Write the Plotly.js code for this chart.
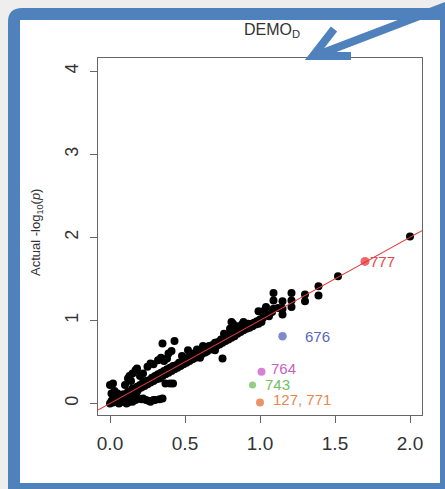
<!DOCTYPE html>
<html>
<head>
<meta charset="utf-8">
<script src="https://cdn.plot.ly/plotly-3.0.1.min.js"></script>
<style>
  html, body { margin: 0; padding: 0; background: #eeeeee; }
  #chart { width: 445px; height: 489px; }
</style>
</head>
<body>
<div id="chart"></div>
<script>
// ---------- data ----------
const blackX = [
  0.00,0.01,0.02,0.03,0.02,0.04,0.05,0.06,0.07,0.08,0.09,0.10,0.01,0.03,0.05,0.06,0.08,0.10,0.11,0.12,
  0.00,0.02,
  0.10,0.12,0.13,0.15,0.17,0.18,0.14,0.20,0.22,0.25,0.27,0.29,0.32,0.34,0.36,0.38,0.35,0.43,0.41,0.39,
  0.13,0.15,0.17,0.18,0.19,0.21,0.22,0.24,0.26,0.27,0.29,0.30,0.33,0.35,0.37,0.40,0.42,0.15,0.17,
  0.12,0.14,0.15,0.16,0.18,0.19,0.20,0.21,0.22,0.23,0.24,0.25,0.26,0.27,0.28,0.29,0.30,0.31,0.32,0.33,
  0.34,0.35,0.36,0.37,0.38,0.39,0.40,0.41,0.42,0.43,0.44,0.45,0.46,0.47,0.48,0.49,0.50,0.51,0.52,0.53,
  0.54,0.55,0.56,0.57,0.58,0.59,0.60,0.61,0.62,0.63,0.64,0.65,0.66,0.67,0.68,0.69,0.70,0.71,0.72,0.73,
  0.74,0.75,0.76,0.77,0.78,0.79,0.80,0.81,0.82,0.83,0.84,0.85,0.86,0.87,0.88,0.89,0.90,0.91,0.92,0.93,
  0.94,0.95,0.96,0.97,0.98,0.99,1.00,1.01,1.02,
  0.48,0.52,0.55,0.58,0.62,0.64,0.68,0.75,0.76,0.80,0.81,0.82,0.85,0.88,0.89,0.92,0.95,0.99,0.60,0.70,
  1.03,1.04,1.04,1.06,1.08,1.09,1.09,1.09,1.12,1.15,1.15,1.15,1.21,1.21,1.21,1.30,1.30,1.39,1.39,1.52,2.00
];
const blackY = [
  0.00,0.03,0.01,0.05,0.08,0.02,0.06,0.04,0.09,0.05,0.11,0.08,0.12,0.15,0.12,0.00,0.02,0.03,0.00,0.01,
  0.22,0.24,
  0.22,0.30,0.33,0.36,0.40,0.42,0.27,0.33,0.36,0.44,0.48,0.47,0.52,0.55,0.51,0.54,0.72,0.75,0.63,0.60,
  0.10,0.12,0.10,0.14,0.06,0.05,0.06,0.04,0.03,0.02,0.04,0.04,0.05,0.06,0.24,0.24,0.24,0.02,0.04,
  0.14,0.15,0.18,0.14,0.20,0.17,0.22,0.19,0.25,0.21,0.27,0.23,0.28,0.25,0.31,0.27,0.33,0.29,0.35,0.30,
  0.37,0.33,0.39,0.35,0.41,0.37,0.43,0.39,0.45,0.41,0.46,0.43,0.49,0.45,0.50,0.47,0.53,0.49,0.55,0.51,
  0.57,0.53,0.58,0.55,0.61,0.57,0.62,0.59,0.65,0.61,0.66,0.63,0.69,0.65,0.70,0.67,0.73,0.69,0.74,0.71,
  0.77,0.73,0.78,0.75,0.81,0.77,0.83,0.79,0.85,0.81,0.87,0.84,0.89,0.86,0.90,0.88,0.92,0.90,0.94,0.91,
  0.95,0.93,0.97,0.95,0.99,0.96,1.01,0.98,1.03,
  0.57,0.64,0.60,0.65,0.69,0.62,0.66,0.54,0.84,0.90,0.98,0.96,0.93,0.95,0.98,0.96,0.96,1.11,0.55,0.64,
  1.12,1.07,1.16,1.05,1.10,1.14,1.24,1.33,1.15,1.07,1.14,1.23,1.16,1.24,1.33,1.23,1.31,1.30,1.41,1.53,2.01
];

// highlighted points
const hiLabels = ['777', '676', '764', '743', '127, 771'];
const hiX      = [1.70, 1.15, 1.01, 0.95, 1.00];
const hiY      = [1.71, 0.81, 0.38, 0.22, 0.01];
const hiColors = ['#e8262c', '#4759b5', '#c34dc0', '#62b84e', '#e2662c'];
const hiTextColors = ['#e8464c', '#5868b8', '#c860c4', '#72c060', '#e88850'];

// axes
const xTickVals = [0, 0.5, 1, 1.5, 2];
const xTickText = ['0.0', '0.5', '1.0', '1.5', '2.0'];
const yTickVals = [0, 1, 2, 3, 4];
const yTickText = ['0', '1', '2', '3', '4'];
const xRange = [-0.08, 2.08];
const yRange = [-0.14, 4.16];

// ---------- geometry helpers (pixel -> paper) ----------
const W = 445, H = 489;
const M = { l: 98, r: 23, t: 58, b: 74 };
const PW = W - M.l - M.r, PH = H - M.t - M.b;
const X = px => (px - M.l) / PW;
const Y = py => (H - M.b - py) / PH;

const blue = '#4f81bd';
const font = '"Liberation Sans", Arial, sans-serif';

const traces = [
  {
    type: 'scatter', mode: 'markers',
    x: blackX, y: blackY,
    marker: { color: '#000000', size: 8, line: { width: 0 } },
    hoverinfo: 'x+y', showlegend: false
  },
  {
    type: 'scatter', mode: 'lines',
    x: xRange, y: xRange,
    line: { color: '#e23a3a', width: 1.1 },
    hoverinfo: 'skip', showlegend: false
  },
  {
    type: 'scatter', mode: 'markers',
    x: hiX, y: hiY, text: hiLabels,
    marker: { color: hiColors, size: [9, 8.5, 8, 7, 8], line: { width: 0 } },
    hoverinfo: 'text+x+y', showlegend: false
  }
];

const labelShiftX = [4, 21, 8, 11, 12];
const labelShiftY = [0, 0, 3, 1, 3];
const annotations = hiLabels.map((t, i) => ({
  x: hiX[i], y: hiY[i], xref: 'x', yref: 'y',
  text: t, showarrow: false, xanchor: 'left', yanchor: 'middle',
  xshift: labelShiftX[i], yshift: labelShiftY[i], borderpad: 0,
  font: { family: font, size: 15, color: hiTextColors[i] }
}));

// y-axis title placed as rotated text
annotations.push({
  xref: 'paper', yref: 'paper', x: X(36), y: Y(233),
  xanchor: 'center', yanchor: 'middle', textangle: -90, showarrow: false,
  text: 'Actual -log<sub>10</sub>(<i>p</i>)',
  font: { family: font, size: 13, color: '#333333' }
});

const shapes = [
  // blue frame (outer) with rounded top-left corner
  {
    type: 'path', xref: 'paper', yref: 'paper', layer: 'below',
    path: `M ${X(8)},${Y(22)} Q ${X(8)},${Y(8)} ${X(22)},${Y(8)} L ${X(470)},${Y(8)} L ${X(470)},${Y(510)} L ${X(8)},${Y(510)} Z`,
    fillcolor: blue, line: { width: 0 }
  },
  // white inner panel
  {
    type: 'rect', xref: 'paper', yref: 'paper', layer: 'below',
    x0: X(20), x1: X(440), y0: Y(483), y1: Y(20),
    fillcolor: '#ffffff', line: { width: 0 }
  },
  // arrow shaft
  {
    type: 'line', xref: 'paper', yref: 'paper', layer: 'above',
    x0: X(480), y0: Y(-7), x1: X(320), y1: Y(54),
    line: { color: blue, width: 8 }
  },
  // arrow head (open chevron)
  {
    type: 'path', xref: 'paper', yref: 'paper', layer: 'above',
    path: `M ${X(334)},${Y(29)} L ${X(313)},${Y(56)} L ${X(351)},${Y(56)}`,
    line: { color: blue, width: 8 }
  }
];

const layout = {
  width: W, height: H,
  margin: M,
  paper_bgcolor: '#eeeeee',
  plot_bgcolor: '#ffffff',
  font: { family: font, color: '#333333' },
  title: {
    text: 'DEMO<sub>D</sub>',
    xref: 'paper', yref: 'paper',
    x: X(272), xanchor: 'center',
    y: Y(42), yanchor: 'middle',
    font: { family: font, size: 16, color: '#333333' }
  },
  xaxis: {
    range: xRange, tickvals: xTickVals, ticktext: xTickText,
    ticks: 'outside', ticklen: 7, tickwidth: 1, tickcolor: '#666666',
    showline: true, mirror: true, linecolor: '#666666', linewidth: 1,
    showgrid: false, zeroline: false,
    tickfont: { family: font, size: 19, color: '#333333' },
    ticklabelstandoff: 4
  },
  yaxis: {
    range: yRange, tickvals: yTickVals, ticktext: yTickText,
    ticks: 'outside', ticklen: 7, tickwidth: 1, tickcolor: '#666666',
    showline: true, mirror: true, linecolor: '#666666', linewidth: 1,
    showgrid: false, zeroline: false, tickangle: -90,
    tickfont: { family: font, size: 18, color: '#333333' },
    ticklabelstandoff: 5
  },
  annotations: annotations,
  shapes: shapes,
  showlegend: false
};

Plotly.newPlot('chart', traces, layout, { displayModeBar: false, staticPlot: true });
</script>
</body>
</html>
